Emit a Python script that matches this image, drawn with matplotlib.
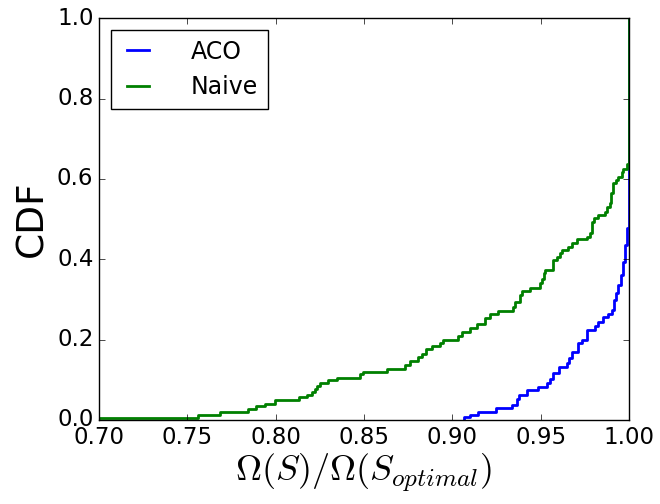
import matplotlib
matplotlib.use("Agg")
from matplotlib import pyplot as plt

# Step CDF points (x = Omega(S)/Omega(S_opt), y = CDF)
aco_x = [0.9066, 0.9066, 0.910, 0.9147, 0.9247, 0.9336, 0.9364, 0.9379, 0.942,
         0.9487, 0.9534, 0.9553, 0.957, 0.9604, 0.9647, 0.9662, 0.9675, 0.9713,
         0.9732, 0.976, 0.9807, 0.9826, 0.9854, 0.9883, 0.9905, 0.9915, 0.9926,
         0.9939, 0.9953, 0.9964, 0.9977, 0.9986, 1.0]
aco_y = [0.0, 0.008, 0.012, 0.021, 0.029, 0.037, 0.051, 0.062, 0.075,
         0.081, 0.091, 0.101, 0.116, 0.133, 0.141, 0.154, 0.170, 0.191,
         0.199, 0.224, 0.234, 0.245, 0.257, 0.265, 0.275, 0.299, 0.315,
         0.336, 0.361, 0.394, 0.435, 0.477, 1.0]

naive_x = [0.68, 0.756, 0.7685, 0.7845, 0.789, 0.794, 0.7996, 0.8134, 0.8175,
           0.8204, 0.822, 0.8236, 0.825, 0.8298, 0.8345, 0.8477, 0.8496, 0.8628,
           0.8732, 0.876, 0.8807, 0.8826, 0.885, 0.8883, 0.893, 0.8949, 0.9034,
           0.9053, 0.910, 0.9138, 0.9185, 0.9213, 0.926, 0.9345, 0.9355, 0.9383,
           0.9396, 0.944, 0.9496, 0.9506, 0.952, 0.9525, 0.9568, 0.957, 0.959,
           0.961, 0.962, 0.9656, 0.9675, 0.9704, 0.976, 0.9779, 0.9792, 0.9803,
           0.9826, 0.9864, 0.9873, 0.9892, 0.9896, 0.991, 0.9926, 0.9939, 0.9958,
           0.9967, 0.9986, 1.0]
naive_y = [0.005, 0.012, 0.019, 0.027, 0.034, 0.041, 0.049, 0.056, 0.063,
           0.070, 0.078, 0.085, 0.091, 0.0995, 0.105, 0.114, 0.120, 0.127,
           0.137, 0.148, 0.156, 0.164, 0.176, 0.184, 0.192, 0.199, 0.209,
           0.220, 0.228, 0.240, 0.253, 0.263, 0.271, 0.282, 0.294, 0.311,
           0.321, 0.329, 0.340, 0.352, 0.365, 0.373, 0.386, 0.398, 0.406,
           0.416, 0.423, 0.431, 0.441, 0.4495, 0.456, 0.466, 0.493, 0.502,
           0.510, 0.518, 0.531, 0.541, 0.565, 0.589, 0.597, 0.605, 0.618,
           0.624, 0.638, 1.0]

plt.style.use("classic")
fig = plt.figure(figsize=(6.6, 5.04), dpi=100)
ax = fig.add_axes([0.15, 0.1667, 0.803, 0.797])

ax.step(aco_x, aco_y, where="post", color="b", lw=2, label="ACO")
ax.step(naive_x, naive_y, where="post", color="g", lw=2, label="Naive")

ax.set_xlim(0.70, 1.00)
ax.set_ylim(0.0, 1.0)
ax.tick_params(labelsize=16.5)
ax.set_xlabel(r"$\Omega(S)/\Omega(S_{optimal})$", fontsize=26, labelpad=2)
ax.set_ylabel("CDF", fontsize=27)
ax.legend(loc="upper left", fontsize=17, handlelength=1.5, handletextpad=1.5,
          borderaxespad=0.5)

fig.savefig("out.png", dpi=100)
